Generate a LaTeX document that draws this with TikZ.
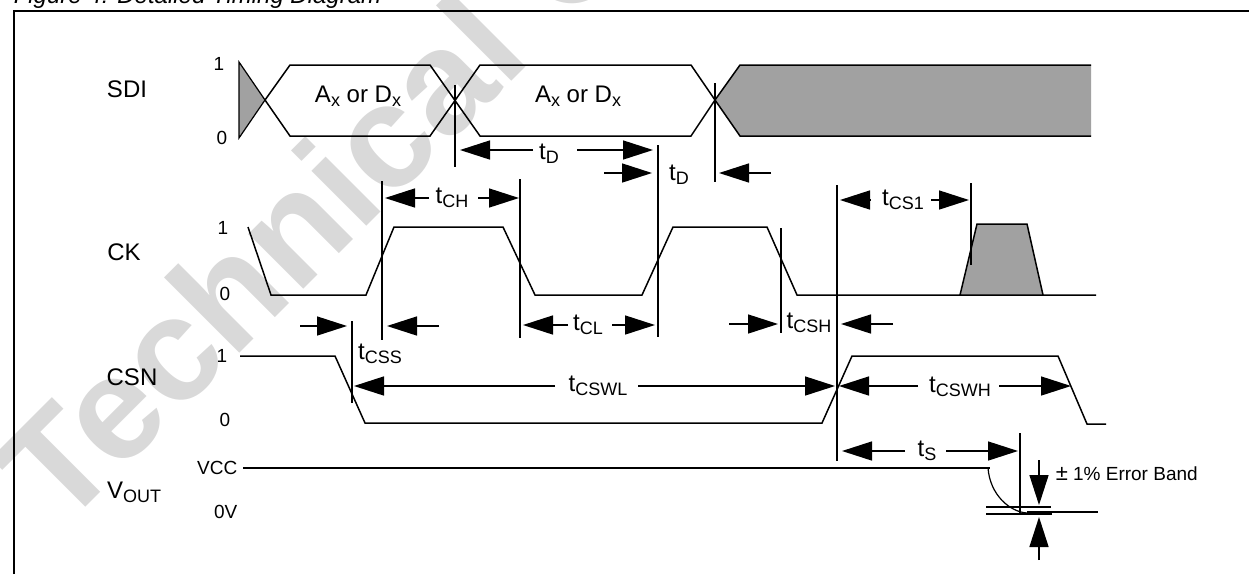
\documentclass[tikz,border=0pt]{standalone}
\usepackage{fontspec}
\setmainfont{Liberation Sans}
\usetikzlibrary{arrows.meta}
\definecolor{markcolor}{gray}{0.85}
\definecolor{dontcarecolor}{gray}{0.63}
\newcommand{\lowered}[1]{\raisebox{-4pt}{\fontsize{18}{18}\selectfont #1}}

\begin{document}
\begin{tikzpicture}[x=1pt,y=-1pt,line width=1.5pt,inner sep=0pt]
  \tikzstyle{label}=[anchor=base,font=\fontsize{24}{24}\selectfont]
  \tikzstyle{level}=[anchor=base,font=\fontsize{19}{19}\selectfont]
  \tikzstyle{dimension}=[-{Triangle[length=30pt,width=19pt]}]
  \tikzstyle{dontcare}=[fill=dontcarecolor]

  \useasboundingbox (0,0) rectangle (1249,574);
  \clip (0,0) rectangle (1249,574);

  \node[anchor=base west,rotate=45,text=markcolor,font=\fontsize{147}{147}\selectfont\bfseries]
        (mark) at (61,532) {Technical\hspace{6pt} O};
  \node[anchor=base west,font=\fontsize{24}{24}\selectfont\itshape]
        (caption) at (13,3) {Figure 4: Detailed Timing Diagram};

  \draw[line width=2pt] (14,574) -- (14,11) -- (1249,11);

  \node[label] (SDI)  at (127,97)    {SDI};
  \node[label] (CK)   at (124,260.5) {CK};
  \node[label] (CSN)  at (132,385)   {CSN};
  \node[label] (VOUT) at (134,498)   {V\lowered{OUT}};

  \node[level] (SDIa) at (219,70)  {1};
  \node[level] (SDIb) at (222,144) {0};
  \node[level] (CKa)  at (223,234) {1};
  \node[level] (CKb)  at (225,300) {0};
  \node[level] (CSNa) at (222,362) {1};
  \node[level] (CSNb) at (225,426) {0};
  \node[level,anchor=base east] (VCC)  at (238,474) {VCC};
  \node[level,anchor=base east] (zero) at (238,518) {0V};

  \draw[dontcare,line width=1.2pt] (239,62) -- (265,100) -- (239,138) -- cycle;
  \draw[dontcare] (1091,65) -- (740,65) -- (715,100) -- (740,136) -- (1091,136);
  \draw (265,100) -- (290,65) -- (430,65) -- (480,136) -- (691,136) -- (715,100);
  \draw (265,100) -- (290,136) -- (430,136) -- (480,65) -- (691,65) -- (715,100);
  \node[label] (dataA) at (358,102) {A\lowered{x} or D\lowered{x}};
  \node[label] (dataB) at (578,102) {A\lowered{x} or D\lowered{x}};

  \draw (248,227) -- (271,295) -- (366,295) -- (394,227) -- (503,227) -- (535,295)
        -- (642,295) -- (673,227) -- (767,227) -- (797,295) -- (1096,295);
  \draw[dontcare] (960,295) -- (977,224) -- (1027,224) -- (1043,295) -- cycle;

  \draw (240,356) -- (335,356) -- (365,423) -- (822,423) -- (852,356) -- (1058,356)
        -- (1087,424) -- (1106,424);

  \draw (243,468) -- (990,468);
  \draw[line width=1.2pt] (988,468) .. controls (990,495) and (1010,512) .. (1027,513);
  \draw (1027,512) -- (1098,512);
  \draw (986,507) -- (1051,507);
  \draw[line width=2pt] (986,514) -- (1052,514);

  \foreach \x/\top/\bottom in {455/85/167, 715/83/182, 658/145/337, 382/181/340, 520/179/338,
                               352/321/403, 781/228/333, 837/185/461, 971/183/265, 1020/433/514}
    \draw (\x,\top) -- (\x,\bottom);

  \node[label] (tD)    at (549,159) {t\lowered{D}};
  \node[label] (tDb)   at (679,180) {t\lowered{D}};
  \node[label] (tCH)   at (452,203) {t\lowered{CH}};
  \node[label] (tCS)   at (903,205) {t\lowered{CS1}};
  \node[label] (tCSS)  at (380,359) {t\lowered{CSS}};
  \node[label] (tCL)   at (588,330) {t\lowered{CL}};
  \node[label] (tCSH)  at (809,328) {t\lowered{CSH}};
  \node[label] (tCSWL) at (598,391) {t\lowered{CSWL}};
  \node[label] (tCSWH) at (960,392) {t\lowered{CSWH}};
  \node[label] (tS)    at (927,456) {t\lowered{S}};
  \node[level,anchor=base west] (band) at (1055,480) {{\fontsize{22}{22}\selectfont ±} 1\% Error Band};

  \foreach \name/\x/\y in {Da/533/150, Db/460/150, Dc/577/150, Dd/653/150,
                           Ea/604/173, Eb/652/173, Ec/771/173, Ed/719/173,
                           CHa/429/198, CHb/385/198, CHc/478/198, CHd/519/198,
                           CSa/870/200, CSb/840/200, CSc/931/200, CSd/969/200,
                           SSa/300/326, SSb/347/326, SSc/439/326, SSd/387/326,
                           CLa/568/325, CLb/523/325, CLc/612/325, CLd/655/325,
                           SHa/729/324, SHb/778/324, SHc/893/324, SHd/841/324,
                           WLa/555/386, WLb/354/386, WLc/638/386, WLd/835/386,
                           WHa/918/386, WHb/839/386, WHc/999/386, WHd/1071/386,
                           Sa/905/451, Sb/842/451, Sc/946/451, Sd/1018/451,
                           Ba/1039/460, Bb/1039/505, Bc/1039/560, Bd/1039/517}
    \coordinate (\name) at (\x,\y);

  \path[dimension] (Da) edge (Db)
                   (Dc) edge (Dd)
                   (Ea) edge (Eb)
                   (Ec) edge (Ed)
                   (CHa) edge (CHb)
                   (CHc) edge (CHd)
                   (CSa) edge (CSb)
                   (CSc) edge (CSd)
                   (SSa) edge (SSb)
                   (SSc) edge (SSd)
                   (CLa) edge (CLb)
                   (CLc) edge (CLd)
                   (SHa) edge (SHb)
                   (SHc) edge (SHd)
                   (WLa) edge (WLb)
                   (WLc) edge (WLd)
                   (WHa) edge (WHb)
                   (WHc) edge (WHd)
                   (Sa) edge (Sb)
                   (Sc) edge (Sd)
                   (Ba) edge (Bb)
                   (Bc) edge (Bd);
\end{tikzpicture}
\end{document}
